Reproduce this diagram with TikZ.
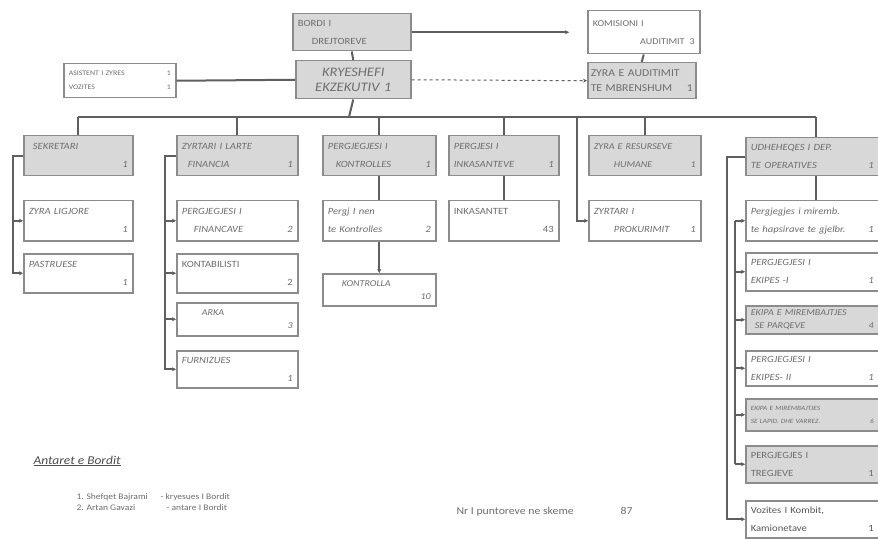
\documentclass[tikz,border=0pt]{standalone}
\usepackage{fontspec}
\setmainfont{Carlito}[FakeStretch=1.12]
\usetikzlibrary{arrows.meta,positioning,calc}
\definecolor{boxline}{RGB}{140,140,140}
\definecolor{boxfill}{RGB}{216,216,216}
\definecolor{inkgray}{RGB}{110,110,110}
\definecolor{linkgray}{RGB}{95,95,95}
\newcommand{\num}[1]{\mbox{}\hfill #1}

\begin{document}
\begin{tikzpicture}[x=1pt,y=-1pt,>={Stealth[length=4pt,width=4pt]},
  unit/.style = {draw=boxline,line width=1.5pt,anchor=north west,inner xsep=5pt,inner ysep=2pt,
                 text=inkgray,align=left,font=\itshape\fontsize{9.5}{18}\selectfont},
  head/.style = {unit,fill=boxfill},
  upright/.style = {font=\fontsize{9.5}{18}\selectfont},
  tight/.style = {font=\itshape\fontsize{9}{13}\selectfont},
  member/.style = {anchor=base west,text=inkgray,font=\fontsize{8.5}{10}\selectfont},
  link/.style = {draw=linkgray,line width=2pt}]

\useasboundingbox[fill=white] (0,0) rectangle (878,540);

% board and top management
\node[head,upright,text width=108pt,minimum height=37pt] (bord) at (292,13) {BORDI I\\\hspace*{14pt}DREJTOREVE};
\node[head,text width=105pt,minimum height=38pt,align=center,font=\itshape\fontsize{13}{15}\selectfont] (kry) at (295,60) {KRYESHEFI\\EKZEKUTIV 1};
\node[unit,upright,text width=102pt,minimum height=34pt,font=\fontsize{7}{14}\selectfont] (aud) at (63,63) {ASISTENT I ZYRES\hfill 1\\VOZITES\hfill 1};
\node[unit,upright,text width=102pt,minimum height=43pt,font=\fontsize{9}{18}\selectfont] (kom) at (587,10) {KOMISIONI I\\\num{AUDITIMIT\hspace*{5pt}3}};
\node[head,upright,text width=102pt,minimum height=36pt,inner xsep=3pt,font=\fontsize{10.5}{15}\selectfont] (zaud) at (587,62) {ZYRA E AUDITIMIT\\TE MBRENSHUM\hfill 1};

% departments
\node[head,text width=99pt,minimum height=40pt] (sek) at (23,135) {\hspace*{4pt}SEKRETARI\\\num{1}};
\node[head,text width=111pt,minimum height=40pt] (zla) at (176,135) {ZYRTARI I LARTE\\\hspace*{6pt}FINANCIA\hfill 1};
\node[head,text width=103pt,minimum height=40pt] (pk) at (322,135) {PERGJEGJESI I\\\hspace*{8pt}KONTROLLES\hfill 1};
\node[head,text width=100pt,minimum height=40pt] (pi) at (448,135) {PERGJESI I\\INKASANTEVE\hfill 1};
\node[head,text width=102pt,minimum height=40pt,font=\itshape\fontsize{9}{18}\selectfont] (rh) at (588,135) {ZYRA E RESURSEVE\\\hspace*{20pt}HUMANE\hfill 1};
\node[head,text width=130pt,minimum height=38pt] (ud) at (745,137) {UDHEHEQES I DEP.\\TE OPERATIVES\hfill 1\hspace*{7pt}};

% units
\node[unit,text width=99pt,minimum height=40pt,below=23.5pt of sek] (zlig) {ZYRA LIGJORE\\\num{1}};
\node[unit,text width=99pt,minimum height=39pt,below=11.5pt of zlig] (pas) {PASTRUESE\\\num{1}};
\node[unit,text width=111pt,minimum height=40pt,below=23.5pt of zla] (pfin) {PERGJEGJESI I\\\hspace*{12pt}FINANCAVE\hfill 2};
\node[unit,upright,text width=111pt,minimum height=39pt,below=11.5pt of pfin] (kon) {KONTABILISTI\\\num{2}};
\node[unit,tight,text width=111pt,minimum height=33pt,below=8.5pt of kon] (arka) {\hspace*{20pt}ARKA\\\num{3}};
\node[unit,text width=111pt,minimum height=37pt,below=13.5pt of arka] (furn) {FURNIZUES\\\num{1}};
\node[unit,text width=103pt,minimum height=40pt,below=23.5pt of pk] (pnk) {Pergj I nen\\te Kontrolles\hfill 2};
\node[unit,tight,text width=103pt,minimum height=32pt,below=31.5pt of pnk] (ktr) {\hspace*{14pt}KONTROLLA\\\num{10}};
\node[unit,upright,text width=100pt,minimum height=40pt,below=23.5pt of pi] (ink) {INKASANTET\\\num{43}};
\node[unit,text width=102pt,minimum height=40pt,below=23.5pt of rh] (prok) {ZYRTARI I\\\hspace*{20pt}PROKURIMIT\hfill 1};
\node[unit,text width=130pt,minimum height=40pt,below=23.5pt of ud] (pmir) {Pergjegjes i miremb.\\te hapsirave te gjelbr.\hfill 1\hspace*{7pt}};
\node[unit,text width=130pt,minimum height=38pt,below=10.5pt of pmir] (pe1) {PERGJEGJESI I\\EKIPES -I\hfill 1\hspace*{7pt}};
\node[head,tight,text width=130pt,minimum height=28pt,below=13.5pt of pe1] (epar) {EKIPA E MIREMBAJTJES\\\hspace*{4pt}SE PARQEVE\hfill 4\hspace*{7pt}};
\node[unit,text width=130pt,minimum height=35pt,below=15.5pt of epar] (pe2) {PERGJEGJESI I\\EKIPES- II\hfill 1\hspace*{7pt}};
\node[head,tight,text width=130pt,minimum height=32pt,below=11.5pt of pe2,font=\itshape\fontsize{6.5}{13}\selectfont] (elap) {EKIPA E MIREMBAJTJES\\SE LAPID. DHE VARREZ.\hfill 6\hspace*{7pt}};
\node[head,upright,text width=130pt,minimum height=37pt,below=13.5pt of elap] (treg) {PERGJEGJES I\\TREGJEVE\hfill 1\hspace*{7pt}};
\node[unit,upright,text width=130pt,minimum height=37pt,below=16.5pt of treg,text=inkgray!80!black] (voz) {Vozites I Kombit,\\Kamionetave\hfill 1\hspace*{7pt}};

% top connectors
\draw[link] (bord.south) -- (kry.north);
\draw[link,->,shorten >=18pt] (bord.east) -- (kom.west);
\draw[link] (aud.east) -- (kry.west);
\draw[draw=linkgray,line width=1pt,dashed,->] (kry.east) -- (zaud.west);
\draw[link] (kom.south) -- (zaud.north);

% bus to the departments
\coordinate (bus) at (349,117);
\coordinate (prokdrop) at (577,117);
\draw[link] (kry.south) -- (bus);
\draw[link] (sek.north |- bus) -- (ud.north |- bus);
\foreach \n in {sek,zla,pk,pi,rh,ud}
  \draw[link] (\n.north |- bus) -- (\n.north);
\draw[link,->] (prokdrop) |- (prok.west);

% brackets
\draw[link,->] (sek.west) -- ++(-10pt,0) coordinate (sekbar) |- (pas.west);
\draw[link,->] (sekbar |- zlig.west) -- (zlig.west);
\draw[link,->] (zla.west) -- ++(-11pt,0) coordinate (zlabar) |- (furn.west);
\foreach \n in {pfin,kon,arka}
  \draw[link,->] (zlabar |- \n.west) -- (\n.west);
\draw[link] (pk.south) -- (pnk.north);
\draw[link,->] (pnk.south) -- (ktr.north);
\draw[link] (pi.south) -- (ink.north);
\draw[link] (ud.south) -- (pmir.north);
\draw[link,->] (ud.west) -- ++(-18pt,0) coordinate (udbar) |- (voz.west);
\coordinate (udbar2) at ($(pmir.west)+(-10pt,0)$);
\draw[link] (udbar2) -- (udbar2 |- treg.west);
\foreach \n in {pmir,pe1,epar,pe2,elap,treg}
  \draw[link,->] (udbar2 |- \n.west) -- (\n.west);

% board members and total
\node[anchor=base west,text=inkgray!70!black,font=\itshape\fontsize{12}{14}\selectfont] (legend) at (30,464) {\underline{Antaret e Bordit}};
\node[member] (m1) at (73,499) {1. Shefqet Bajrami};
\node[member] (m1r) at (157,499) {- kryesues I Bordit};
\node[member] (m2) at (73,510) {2. Artan Gavazi};
\node[member] (m2r) at (163,510) {- antare I Bordit};
\node[member,font=\fontsize{10.5}{12}\selectfont] (nr) at (453,514) {Nr I puntoreve ne skeme};
\node[member,font=\fontsize{10.5}{12}\selectfont] (nrv) at (617,514) {87};

\end{tikzpicture}
\end{document}
